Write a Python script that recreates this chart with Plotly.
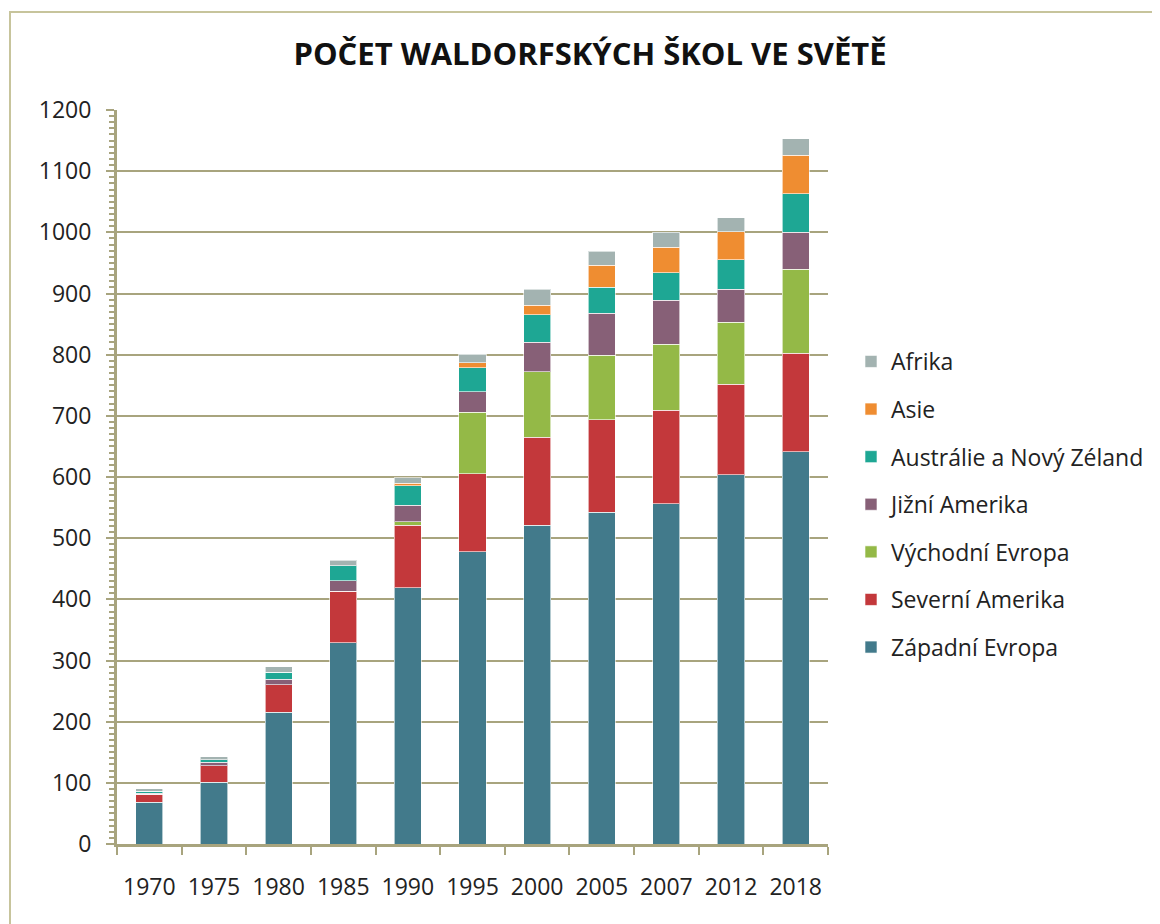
import plotly.graph_objects as go

years = ["1970", "1975", "1980", "1985", "1990", "1995", "2000", "2005", "2007", "2012", "2018"]

zapadni_evropa = [68, 101, 215, 329, 419, 478, 521, 542, 556, 604, 641]
severni_amerika = [13, 27, 45, 84, 102, 127, 144, 152, 153, 148, 161]
vychodni_evropa = [0, 0, 0, 0, 6, 101, 107, 105, 108, 101, 138]
jizni_amerika = [2, 6, 9, 17, 27, 33, 48, 69, 72, 54, 60]
australie = [3, 4, 12, 25, 32, 40, 45, 42, 45, 48, 63]
asie = [0, 0, 0, 0, 4, 8, 16, 36, 42, 46, 63]
afrika = [4, 5, 9, 9, 9, 14, 26, 23, 24, 23, 27]

series = [
    ("Západní Evropa", zapadni_evropa, "#427a8b"),
    ("Severní Amerika", severni_amerika, "#c3383b"),
    ("Východní Evropa", vychodni_evropa, "#94b947"),
    ("Jižní Amerika", jizni_amerika, "#876077"),
    ("Austrálie a Nový Zéland", australie, "#1ea794"),
    ("Asie", asie, "#ef8d31"),
    ("Afrika", afrika, "#a3b3b1"),
]

FONT = "Open Sans"
GRID = "#a8a47e"
TXT = "#222222"

fig = go.Figure()
n = len(series)
for i, (name, vals, color) in enumerate(series):
    fig.add_trace(go.Bar(
        x=years, y=vals, name=name, legendgroup=name, legendrank=n - i,
        marker=dict(color=color, line=dict(color="rgba(255,255,255,0.6)", width=1)),
    ))

# page has an 8px body margin; figure is placed at (8, 8)
W, H = 1152, 916
L, T = 109, 102
R, B = W - 820, H - 836
pw, ph = W - L - R, H - T - B

fig.update_layout(
    width=W, height=H,
    barmode="stack", bargap=0.58,
    paper_bgcolor="white", plot_bgcolor="white",
    margin=dict(l=L, r=R, t=T, b=B, autoexpand=False),
    font=dict(family=FONT, size=23, color=TXT),
    title=dict(
        text="<b>POČET WALDORFSKÝCH ŠKOL VE SVĚTĚ</b>",
        x=582 / W, xref="container", xanchor="center",
        y=1 - 46 / H, yref="container", yanchor="middle",
        font=dict(family=FONT, size=31, color="#111111"),
    ),
    legend=dict(
        x=(843 - L) / pw, xanchor="left",
        y=(836 - 332) / ph, yanchor="top",
        traceorder="grouped", tracegroupgap=14.7,
        font=dict(family=FONT, size=23, color=TXT),
        bgcolor="rgba(0,0,0,0)",
    ),
    xaxis=dict(
        type="category", tickson="boundaries",
        showline=True, linecolor=GRID, linewidth=3,
        ticks="outside", ticklen=8, tickwidth=2, tickcolor=GRID,
        showgrid=False, ticklabelstandoff=20,
        tickfont=dict(family=FONT, size=23, color=TXT),
    ),
    yaxis=dict(
        range=[0, 1200], dtick=100, tick0=0,
        showline=True, linecolor=GRID, linewidth=3,
        ticks="outside", ticklen=8, tickwidth=2, tickcolor=GRID,
        showgrid=True, gridcolor=GRID, gridwidth=2,
        zeroline=False, ticklabelstandoff=10,
        minor=dict(dtick=10, ticks="outside", ticklen=5, tickwidth=1.5, tickcolor=GRID, showgrid=False),
        tickfont=dict(family=FONT, size=23, color=TXT),
    ),
    shapes=[dict(
        type="rect", xref="paper", yref="paper",
        x0=(2 - L) / pw, x1=(W + 30 - L) / pw,
        y0=-(B + 30) / ph, y1=(836 - 4) / ph,
        line=dict(color="#c7c49c", width=2), fillcolor="rgba(0,0,0,0)", layer="below",
    )],
)

fig.write_html("out.html")
